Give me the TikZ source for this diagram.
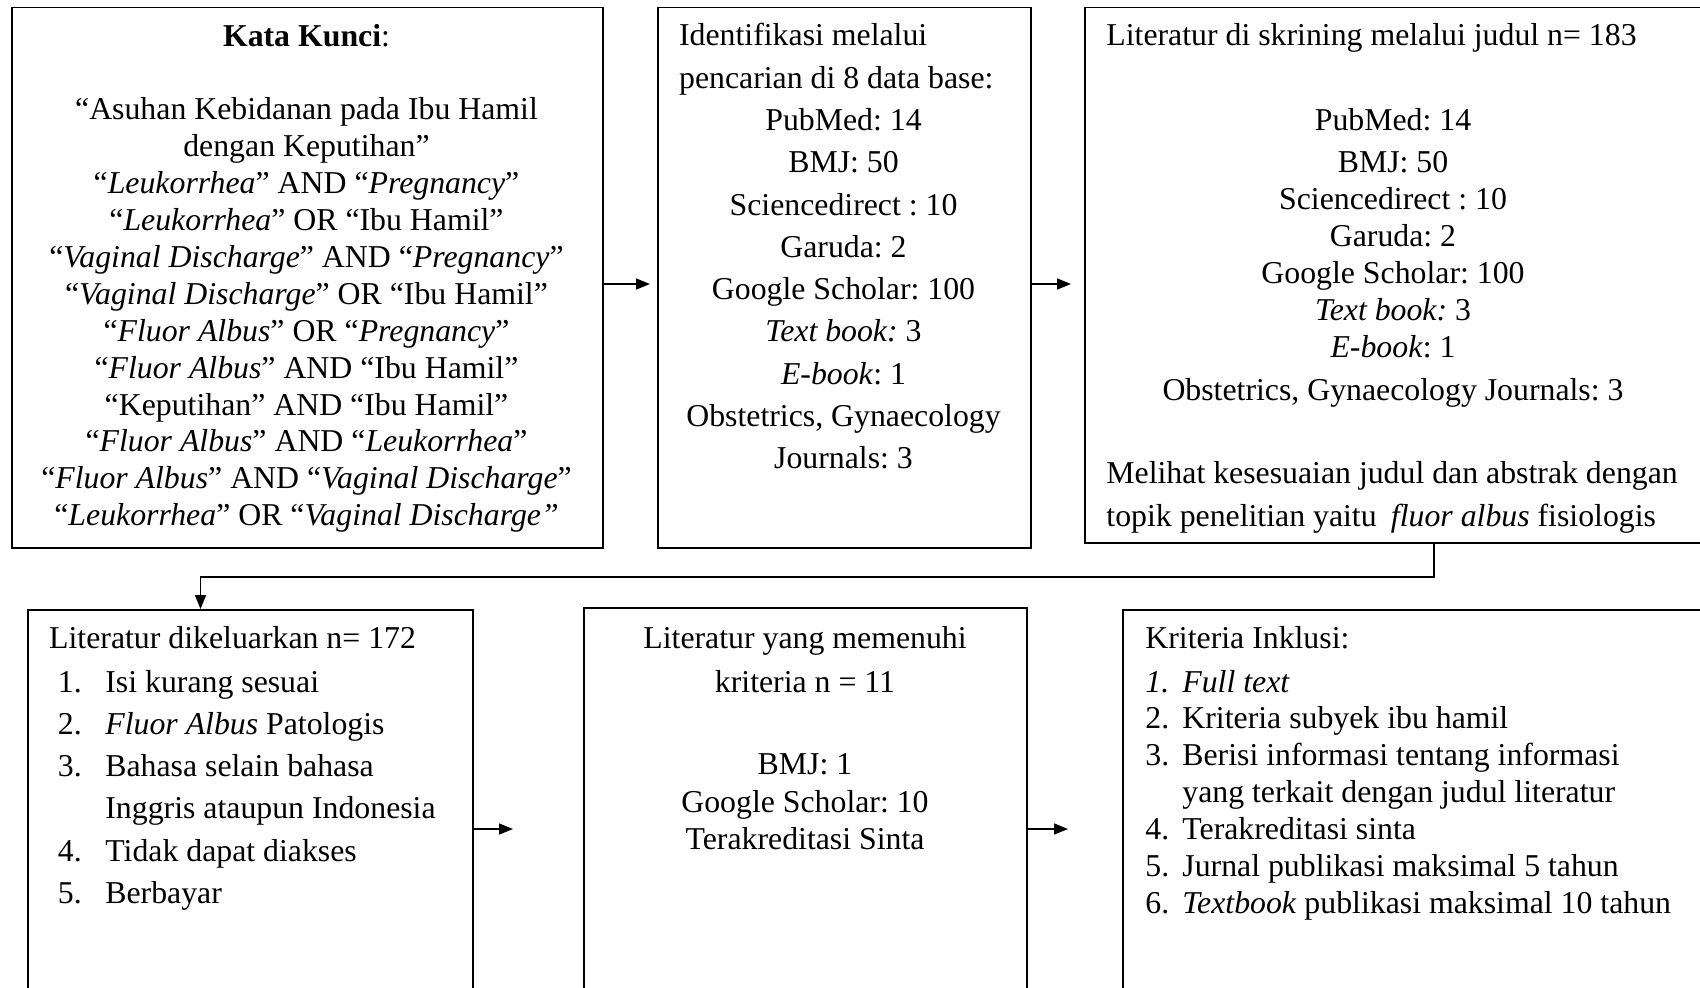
\documentclass[tikz,border=0pt]{standalone}
\usepackage{fontspec}
\setmainfont{Liberation Serif}
\usetikzlibrary{arrows.meta}
\tikzset{
  box/.style={draw, line width=0.8pt, anchor=north west, inner sep=0pt},
  txt/.style={inner sep=0pt, font=\fontsize{15.9}{18.45}\selectfont\frenchspacing},
  wide/.style={inner sep=0pt, font=\fontsize{15.9}{21.15}\selectfont\frenchspacing},
  arr/.style={line width=0.8pt, -{Triangle[length=7pt,width=5.5pt]}},
}
\newcommand{\numA}[1]{\makebox[23.75pt][l]{#1}}
\newcommand{\numB}[1]{\makebox[18.5pt][l]{#1}}
\begin{document}
\begin{tikzpicture}[x=0.5pt,y=-0.5pt]
\useasboundingbox (0,0) rectangle (1700,987);
\clip (0,0) rectangle (1700,987);
% boxes
\node[box, minimum width=295.5pt, minimum height=270.25pt] (b1) at (11,6.5) {};
\node[box, minimum width=186.5pt, minimum height=270.25pt] (b2) at (657,6.5) {};
\node[box, minimum width=309pt, minimum height=267.75pt] (b3) at (1084,6.5) {};
\node[box, minimum width=222.5pt, minimum height=195.5pt] (b4) at (27,609) {};
\node[box, minimum width=221.5pt, minimum height=196.5pt] (b5) at (583,607) {};
\node[box, minimum width=294pt, minimum height=195.5pt] (b6) at (1122,609) {};
% box 1 text (anchor = baseline of last line)
\node[txt, align=center, anchor=base] (t1) at (306.5,525.7) {\textbf{Kata Kunci}:\\[18.45pt]
“Asuhan Kebidanan pada Ibu Hamil\\
dengan Keputihan”\\
“\textit{Leukorrhea}” AND “\textit{Pregnancy}”\\
“\textit{Leukorrhea}” OR “Ibu Hamil”\\
“\textit{Vaginal Discharge}” AND “\textit{Pregnancy}”\\
“\textit{Vaginal Discharge}” OR “Ibu Hamil”\\
“\textit{Fluor Albus}” OR “\textit{Pregnancy}”\\
“\textit{Fluor Albus}” AND “Ibu Hamil”\\
“Keputihan” AND “Ibu Hamil”\\
“\textit{Fluor Albus}” AND “\textit{Leukorrhea}”\\
“\textit{Fluor Albus}” AND “\textit{Vaginal Discharge}”\\
“\textit{Leukorrhea}” OR “\textit{Vaginal Discharge”}};
% box 2 text
\node[wide, align=left, anchor=base west] (t2a) at (678.7,88.1) {Identifikasi melalui\\pencarian di 8 data base:};
\node[wide, align=center, anchor=base] (t2b) at (843.5,468.8) {PubMed: 14\\BMJ: 50\\Sciencedirect : 10\\Garuda: 2\\Google Scholar: 100\\\textit{Text book:} 3\\\textit{E-book}: 1\\Obstetrics, Gynaecology\\Journals: 3};
% box 3 text
\node[txt, anchor=base west] (t3a) at (1106,45.8) {Literatur di skrining melalui judul n= 183};
\node[txt, align=center, anchor=base] (t3b) at (1393,400.3) {PubMed: 14\\[2.7pt]BMJ: 50\\Sciencedirect : 10\\Garuda: 2\\Google Scholar: 100\\\textit{Text book:} 3\\\textit{E-book}: 1\\[3.2pt]Obstetrics, Gynaecology Journals: 3};
\node[wide, align=left, anchor=base west] (t3c) at (1106,526) {Melihat kesesuaian judul dan abstrak dengan\\topik penelitian yaitu\hspace{0.2em} \textit{fluor albus} fisiologis};
% box 4 text
\node[txt, anchor=base west] (t4a) at (48.8,648.6) {Literatur dikeluarkan n= 172};
\node[wide, align=left, anchor=base west] (t4b) at (57.5,903.5) {\numA{1.}Isi kurang sesuai\\\numA{2.}\textit{Fluor Albus} Patologis\\\numA{3.}Bahasa selain bahasa\\\hspace*{23.75pt}Inggris ataupun Indonesia\\\numA{4.}Tidak dapat diakses\\\numA{5.}Berbayar};
% box 5 text
\node[txt, align=center, anchor=base] (t5) at (805,849.2) {Literatur yang memenuhi\\[3.25pt]kriteria n = 11\\[22.75pt]BMJ: 1\\[0.5pt]Google Scholar: 10\\Terakreditasi Sinta};
% box 6 text
\node[txt, anchor=base west] (t6a) at (1145,648.6) {Kriteria Inklusi:};
\node[txt, align=left, anchor=base west] (t6b) at (1145,913.4) {\numB{\textit{1.}}\textit{Full text}\\\numB{2.}Kriteria subyek ibu hamil\\\numB{3.}Berisi informasi tentang informasi\\\hspace*{18.5pt}yang terkait dengan judul literatur\\\numB{4.}Terakreditasi sinta\\\numB{5.}Jurnal publikasi maksimal 5 tahun\\\numB{6.}\textit{Textbook} publikasi maksimal 10 tahun};
% connectors
\coordinate (e1) at (650,284);
\coordinate (e2) at (1071,284);
\coordinate (c1) at (1434,577);
\coordinate (c2) at (200.5,577);
\coordinate (e4) at (513,829);
\coordinate (e5) at (1068,829);
\draw[arr] (b1.east |- e1) -- (e1);
\draw[arr] (b2.east |- e2) -- (e2);
\draw[arr] (b3.south -| c1) -- (c1) -- (c2) -- (b4.north -| c2);
\draw[arr] (b4.east |- e4) -- (e4);
\draw[arr] (b5.east |- e5) -- (e5);
\end{tikzpicture}
\end{document}
